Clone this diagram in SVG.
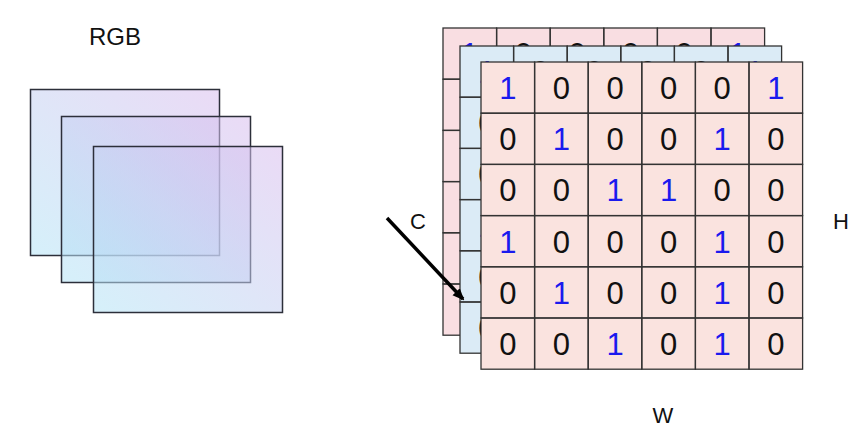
<svg xmlns="http://www.w3.org/2000/svg" width="863" height="432" viewBox="0 0 863 432">
<style>
text{font-family:"Liberation Sans",Arial,sans-serif;}
.lbl{font-size:22px;fill:#111;}
.d{font-size:31px;text-anchor:middle;fill:#111;}
.o{fill:#1a1aee;}
.cell{fill:none;stroke:#333;stroke-width:1.3;}
.bg-pk{fill:#f9dee2;}
.bg-bl{fill:#dbebf6;}
.bg-fr{fill:#fae3df;}
.rgb{fill:url(#g);stroke:#2c2f3a;stroke-width:1.5;}
</style>
<defs>
<linearGradient id="g" x1="0" y1="1" x2="1" y2="0">
<stop offset="0" stop-color="#b3e4f6" stop-opacity="0.55"/>
<stop offset="1" stop-color="#d9bdee" stop-opacity="0.55"/>
</linearGradient>
<g id="cells">
<rect class="cell" x="0" y="0" width="53.6" height="51.2"/><rect class="cell" x="53.6" y="0" width="53.6" height="51.2"/><rect class="cell" x="107.2" y="0" width="53.6" height="51.2"/><rect class="cell" x="160.8" y="0" width="53.6" height="51.2"/><rect class="cell" x="214.4" y="0" width="53.6" height="51.2"/><rect class="cell" x="268" y="0" width="53.6" height="51.2"/>
</g>
<g id="grid">
<use href="#cells" y="0"/><use href="#cells" y="51.2"/><use href="#cells" y="102.4"/><use href="#cells" y="153.6"/><use href="#cells" y="204.8"/><use href="#cells" y="256"/>
</g>
<marker id="ah" markerWidth="12" markerHeight="12" refX="10" refY="6" orient="auto" markerUnits="userSpaceOnUse" viewBox="0 0 12 12">
<path d="M0,1 L12,6 L0,11 z" fill="#000"/>
</marker>
</defs>

<g id="rgb-label"><text class="lbl" x="115" y="45" text-anchor="middle" style="font-size:24px">RGB</text></g>
<g id="rgb-planes">
<rect class="rgb" x="30.5" y="89.5" width="189" height="166"/>
<rect class="rgb" x="61.5" y="116.5" width="189" height="166"/>
<rect class="rgb" x="93.5" y="146.5" width="189" height="166"/>
</g>

<g id="grid-back" transform="translate(443,28)">
<rect class="bg-pk" x="0" y="0" width="321.6" height="307.2"/>
<use href="#grid"/>
<text class="d o" x="26.8" y="37">1</text><text class="d" x="80.4" y="37">0</text><text class="d" x="134" y="37">0</text><text class="d" x="187.6" y="37">0</text><text class="d" x="241.2" y="37">0</text><text class="d o" x="294.8" y="37">1</text>
</g>
<g id="grid-mid" transform="translate(460,46)">
<rect class="bg-bl" x="0" y="0" width="321.6" height="307.2"/>
<use href="#grid"/>
<text class="d o" x="26.8" y="37">1</text><text class="d" x="80.4" y="37">0</text><text class="d" x="134" y="37">0</text><text class="d" x="187.6" y="37">0</text><text class="d" x="241.2" y="37">0</text><text class="d o" x="294.8" y="37">1</text>
<text class="d" x="26.8" y="88.2">0</text><text class="d" x="26.8" y="139.4">0</text><text class="d o" x="26.8" y="190.6">1</text><text class="d" x="26.8" y="241.8">0</text><text class="d" x="26.8" y="293">0</text>
</g>
<g id="grid-front" transform="translate(481,62)">
<rect class="bg-fr" x="0" y="0" width="321.6" height="307.2"/>
<use href="#grid"/>
<text class="d o" x="26.8" y="37">1</text><text class="d" x="80.4" y="37">0</text><text class="d" x="134" y="37">0</text><text class="d" x="187.6" y="37">0</text><text class="d" x="241.2" y="37">0</text><text class="d o" x="294.8" y="37">1</text>
<text class="d" x="26.8" y="88.2">0</text><text class="d o" x="80.4" y="88.2">1</text><text class="d" x="134" y="88.2">0</text><text class="d" x="187.6" y="88.2">0</text><text class="d o" x="241.2" y="88.2">1</text><text class="d" x="294.8" y="88.2">0</text>
<text class="d" x="26.8" y="139.4">0</text><text class="d" x="80.4" y="139.4">0</text><text class="d o" x="134" y="139.4">1</text><text class="d o" x="187.6" y="139.4">1</text><text class="d" x="241.2" y="139.4">0</text><text class="d" x="294.8" y="139.4">0</text>
<text class="d o" x="26.8" y="190.6">1</text><text class="d" x="80.4" y="190.6">0</text><text class="d" x="134" y="190.6">0</text><text class="d" x="187.6" y="190.6">0</text><text class="d o" x="241.2" y="190.6">1</text><text class="d" x="294.8" y="190.6">0</text>
<text class="d" x="26.8" y="241.8">0</text><text class="d o" x="80.4" y="241.8">1</text><text class="d" x="134" y="241.8">0</text><text class="d" x="187.6" y="241.8">0</text><text class="d o" x="241.2" y="241.8">1</text><text class="d" x="294.8" y="241.8">0</text>
<text class="d" x="26.8" y="293">0</text><text class="d" x="80.4" y="293">0</text><text class="d o" x="134" y="293">1</text><text class="d" x="187.6" y="293">0</text><text class="d o" x="241.2" y="293">1</text><text class="d" x="294.8" y="293">0</text>
</g>

<g id="label-c"><text class="lbl" x="418" y="229" text-anchor="middle">C</text></g>
<g id="label-h"><text class="lbl" x="841" y="229" text-anchor="middle">H</text></g>
<g id="label-w"><text class="lbl" x="663" y="423" text-anchor="middle">W</text></g>

<g id="connectors">
<line x1="387" y1="218" x2="463" y2="299" stroke="#000" stroke-width="3.5" marker-end="url(#ah)"/>
</g>
</svg>
